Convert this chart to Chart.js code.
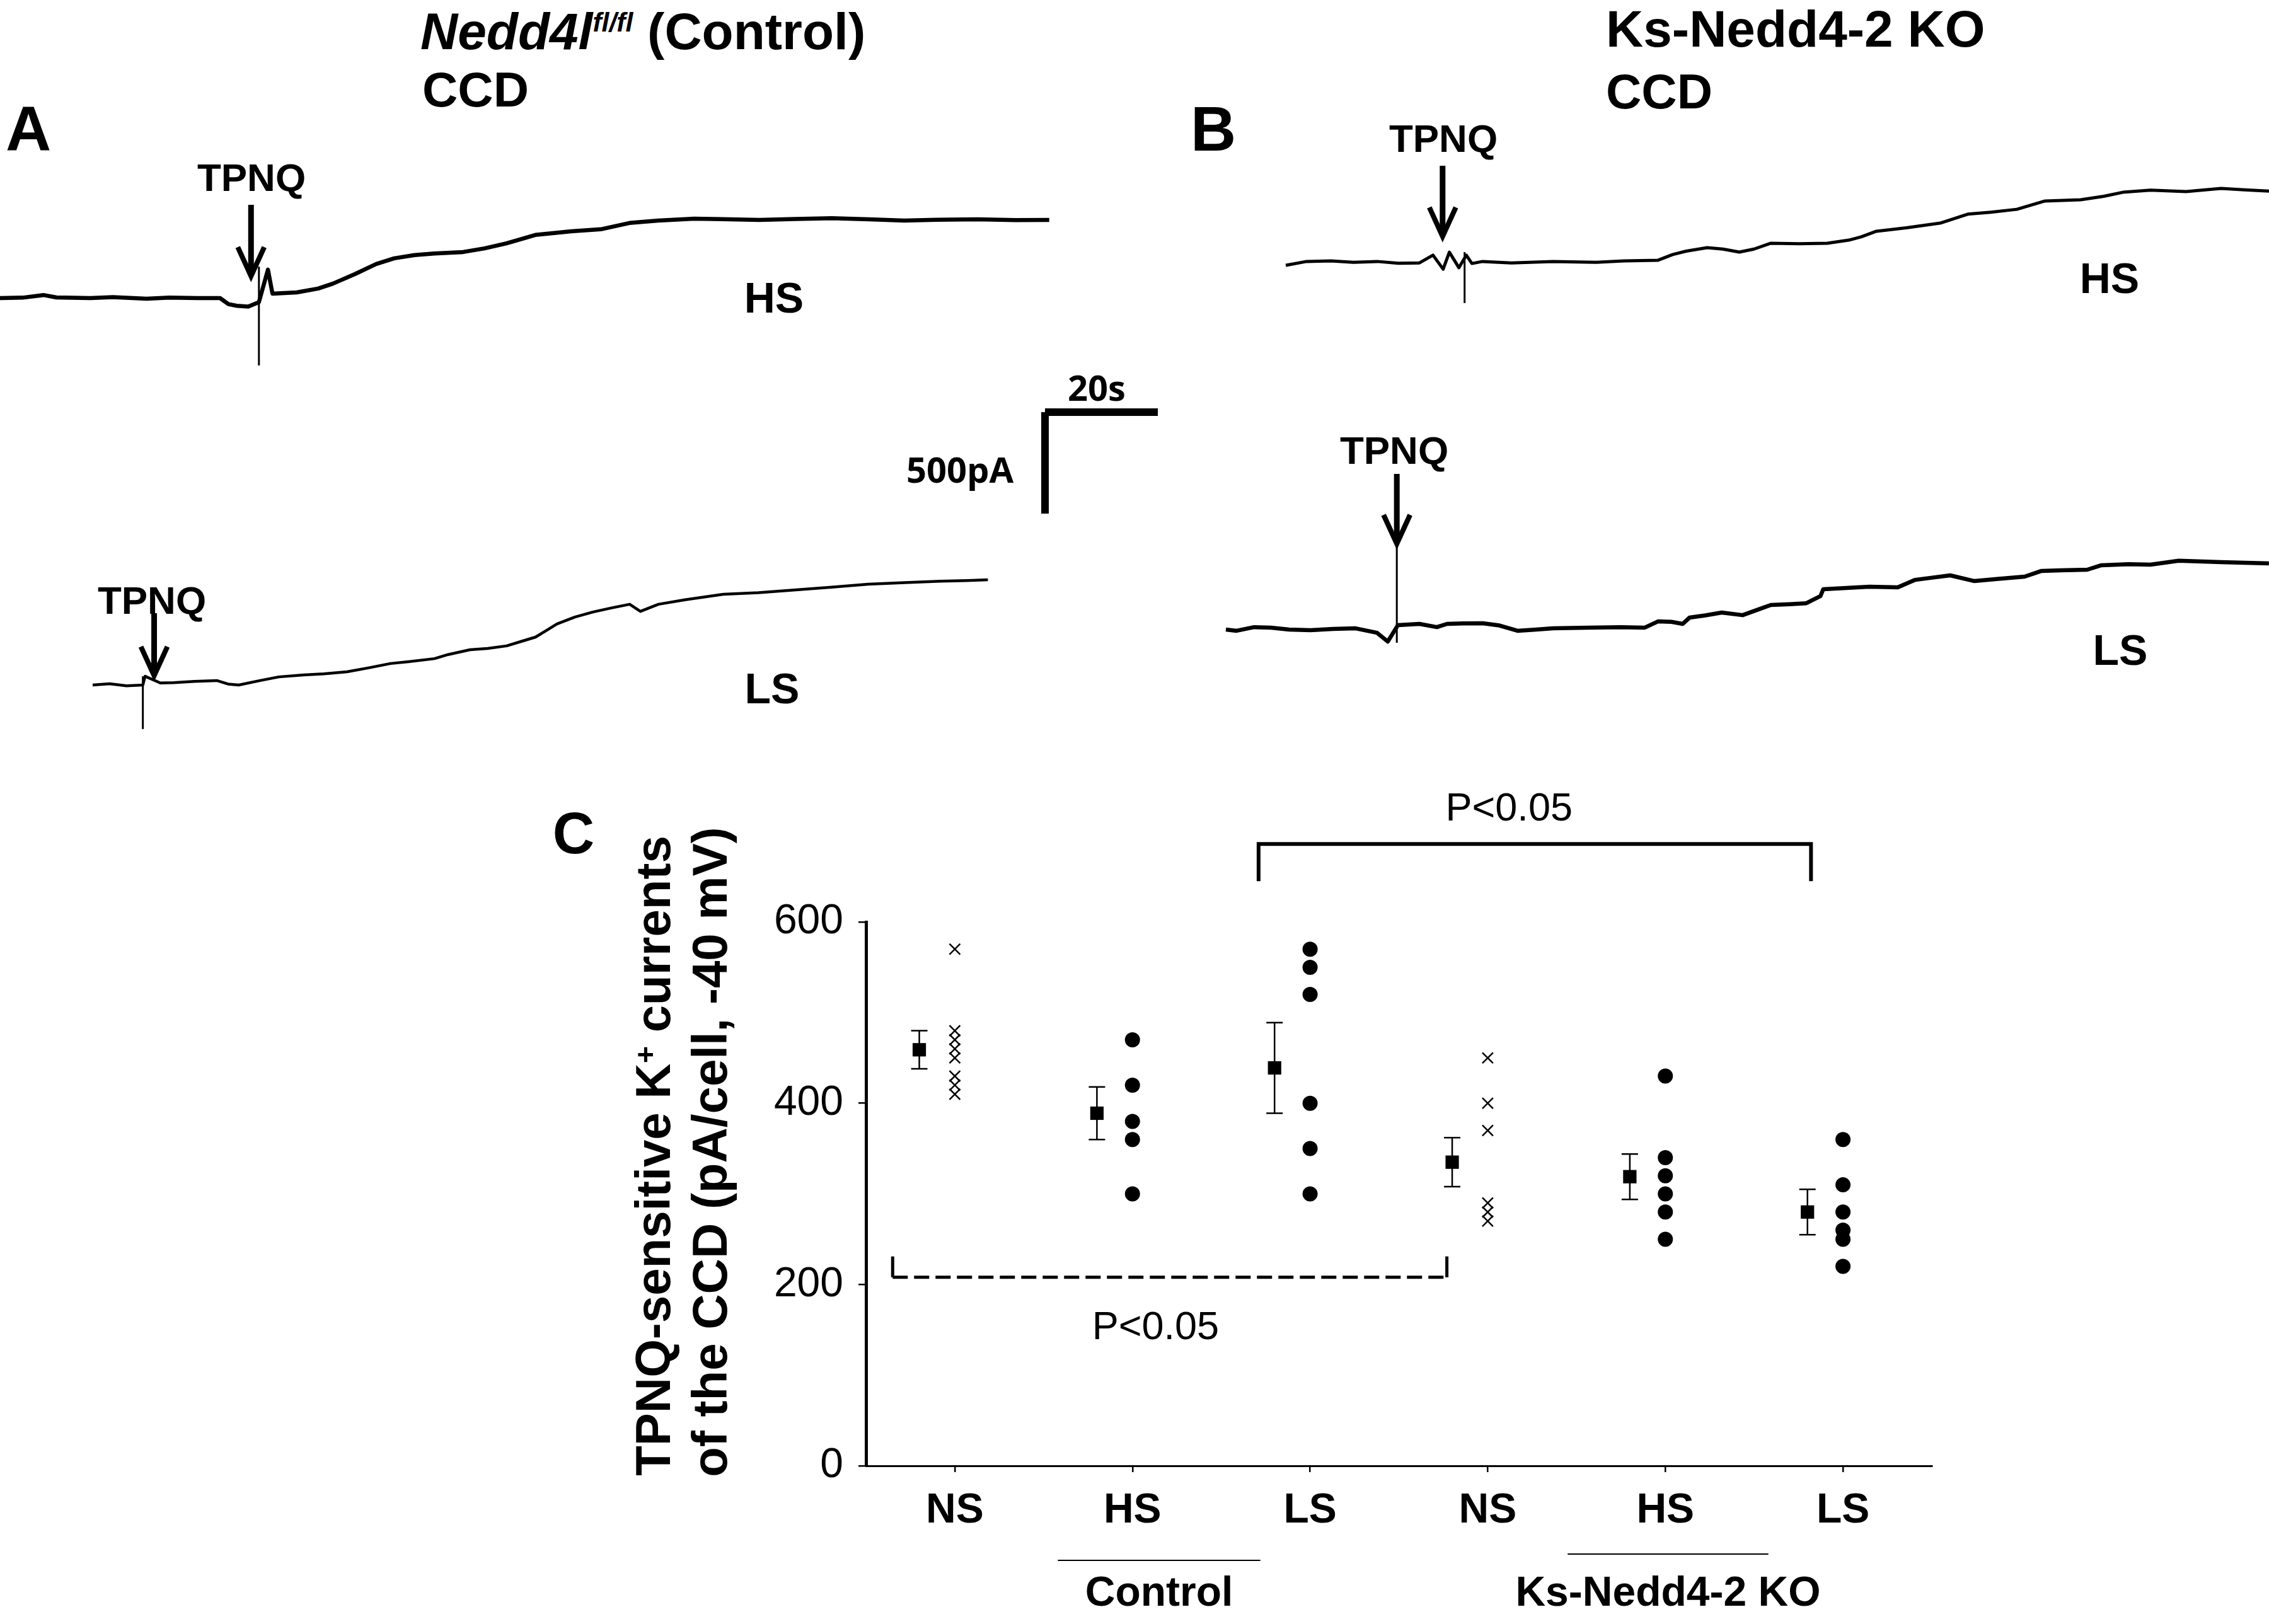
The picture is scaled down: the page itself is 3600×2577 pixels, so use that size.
<!DOCTYPE html>
<html>
<head>
<meta charset="utf-8">
<title>TPNQ-sensitive K+ currents in the CCD</title>
<script src="https://cdn.jsdelivr.net/npm/chart.js@4.4.1/dist/chart.umd.min.js"></script>
<style>
  html, body { margin: 0; padding: 0; background: #fff; }
  #fig { position: relative; width: 3600px; height: 2577px; overflow: hidden; background: #fff;
         font-family: 'Liberation Sans', Arial, sans-serif; color: #000; }
  #fig canvas { position: absolute; }
  .lbl { position: absolute; white-space: nowrap; line-height: 1; }
  .bar { position: absolute; background: #000; }
  .sup { font-size: 0.6em; position: relative; top: -0.5em; }
</style>
</head>
<body>
<div id="fig"></div>
<script>
// --- DATA: whole-cell traces (time in s after trace start, current in pA relative to baseline) ---
const aHsTime = [0, 4, 7.7, 10, 16, 20, 26, 30, 35, 39, 40.5, 42, 44, 45.9, 47.5, 48.3, 52.6, 56.4, 59, 62.9,
  66.7, 69.9, 73.5, 77, 82.1, 85.9, 89.8, 94.9, 101.3, 106.5, 111.6, 116.7, 123.1, 128, 134.6, 141, 147.5, 154, 160.3, 166,
  173.2, 180, 186];
const aHsCurrent = [0, 2, 15, 3, 0, 5, -3, 2, 0, 0, -30, -38, -42, -20, 140, 22, 28, 47, 71, 118,
  168, 196, 212, 220, 227, 245, 270, 311, 329, 339, 370, 382, 391, 389, 385, 390, 394, 388, 382, 386,
  388, 384, 385];

const aLsTime = [0, 3, 6, 8.9, 9.3, 12, 14.4, 18, 22, 24, 25.9, 29.7, 33, 37.4, 41, 45.1, 49, 52.8, 56, 60.6,
  63, 66.9, 70, 73.4, 76, 78.5, 80.5, 82.3, 85.5, 88.7, 92, 95.2, 97.1, 100.3, 105, 111.8, 118, 124.7, 131, 137.5,
  144, 150.3, 155, 158.7];
const aLsCurrent = [0, 6, -4, 0, 43, 10, 12, 18, 22, 5, 0, 22, 40, 50, 55, 65, 85, 106, 115, 130,
  150, 174, 180, 193, 215, 236, 270, 301, 335, 360, 380, 398, 363, 398, 420, 447, 455, 469, 482, 497,
  505, 512, 515, 519];

const bHsTime = [0, 3.7, 8, 12, 16.2, 20, 23.7, 26.1, 27.9, 29, 30.7, 32, 33, 34.9, 40, 47.4, 55, 60, 66, 68.6,
  71, 74.7, 77.5, 80.4, 83, 86, 91, 96, 99.8, 102, 104.7, 110, 116, 120.9, 125, 129.6, 134.6, 140.9, 145, 148.4,
  153.3, 159.6, 165.8, 170, 174.3];
const bHsCurrent = [0, 19, 22, 15, 19, 10, 12, 50, -19, 65, -12, 50, 9, 19, 12, 19, 15, 22, 25, 53,
  70, 87, 80, 65, 80, 109, 106, 109, 124, 140, 168, 185, 208, 252, 262, 276, 317, 323, 340, 360,
  370, 363, 379, 372, 366];

const bLsTime = [0, 1.9, 5, 8, 11.2, 15, 19, 23, 26.8, 28.7, 30.5, 34.3, 37.4, 39.2, 42, 45.5, 48.5, 51.7, 55, 58,
  64.2, 70, 74.2, 76.6, 79, 81, 82.2, 85, 87.9, 91.6, 94, 96.6, 100, 102.9, 105.4, 105.9, 110, 114.1, 119.1, 122.2,
  125, 128.4, 132.7, 137, 141.6, 144.6, 148, 152.7, 155.2, 160, 163.9, 168.9, 176.4, 184.9];
const bLsCurrent = [0, -6, 12, 9, 0, -3, 3, 6, -16, -59, 22, 28, 12, 28, 30, 31, 20, -6, 0, 6,
  9, 12, 9, 40, 38, 28, 59, 70, 84, 71, 95, 121, 125, 130, 165, 199, 205, 211, 208, 245,
  255, 267, 239, 250, 261, 289, 292, 295, 317, 322, 320, 339, 332, 326];

// application artefacts (thin vertical spikes) and TPNQ arrows, in the same s / pA units
const aHsSpike = { t: 45.9, from: -332, to: 155 };
const aLsSpike = { t: 8.9, from: -217, to: 43 };
const bHsSpike = { t: 31.7, from: -186, to: 65 };
const bLsSpike = { t: 30.3, from: -65, to: 410 };
const aHsArrow = { t: 44.5, from: 460, to: 96 };
const aLsArrow = { t: 10.9, from: 354, to: 34 };
const bHsArrow = { t: 27.8, from: 491, to: 130 };
const bLsArrow = { t: 30.3, from: 767, to: 410 };

const scaleBarSeconds = 20;
const scaleBarPA = 500;

// --- DATA: panel C (pA/cell) ---
const catLabels = ['NS', 'HS', 'LS', 'NS', 'HS', 'LS'];
const meanVals = [459, 389, 439, 335, 319, 280];
const semVals = [21, 29, 50, 27, 25, 25];
const ctrlNS = [570, 480, 470, 460, 450, 430, 420, 410];
const ctrlHS = [470, 420, 380, 360, 300];
const ctrlLS = [570, 550, 520, 400, 350, 300];
const koNS = [450, 400, 370, 290, 280, 270];
const koHS = [430, 340, 320, 300, 280, 250];
const koLS = [360, 310, 280, 260, 250, 220];

const FONT = "'Liberation Sans', Arial, sans-serif";
const PX_PER_S = 8.95;   // 20 s scale bar
const PX_PER_PA = 0.322; // 500 pA scale bar
const fig = document.getElementById('fig');

// --- TEXT HELPERS ---
function addText(html, x, y, font, opts = {}) {
  const d = document.createElement('div');
  d.className = 'lbl';
  d.innerHTML = html;
  d.style.left = x + 'px';
  d.style.top = y + 'px';
  d.style.font = font;
  let tf = opts.left ? 'translate(0,-50%)' : 'translate(-50%,-50%)';
  if (opts.rotate) tf += ' rotate(-90deg)';
  d.style.transform = tf;
  fig.appendChild(d);
}

// --- TRACES (panels A, B) ---
const arrowPlugin = {
  id: 'tpnqArrow',
  afterDatasetsDraw(chart, args, opts) {
    const a = opts.arrow;
    if (!a) return;
    const { ctx, scales: { x, y } } = chart;
    const px = x.getPixelForValue(a.t);
    const top = y.getPixelForValue(a.from);
    const tip = y.getPixelForValue(a.to);
    ctx.save();
    ctx.strokeStyle = '#000';
    ctx.lineWidth = 9;
    ctx.beginPath();
    ctx.moveTo(px, top);
    ctx.lineTo(px, tip - 8);
    ctx.stroke();
    ctx.lineWidth = 8;
    ctx.lineJoin = 'miter';
    ctx.beginPath();
    ctx.moveTo(px - 21, tip - 50);
    ctx.lineTo(px, tip - 4);
    ctx.lineTo(px + 21, tip - 50);
    ctx.stroke();
    ctx.restore();
  }
};

function traceChart(tr) {
  const [x0, y0] = tr.origin;
  const [l, t, r, b] = tr.box;
  const cv = document.createElement('canvas');
  cv.width = r - l;
  cv.height = b - t;
  cv.style.left = l + 'px';
  cv.style.top = t + 'px';
  fig.appendChild(cv);
  new Chart(cv, {
    type: 'line',
    data: {
      datasets: [
        { data: tr.time.map((s, i) => ({ x: s, y: tr.current[i] })), borderColor: '#000',
          borderWidth: tr.lineWidth, pointRadius: 0, tension: 0, borderJoinStyle: 'round' },
        { data: [{ x: tr.spike.t, y: tr.spike.from }, { x: tr.spike.t, y: tr.spike.to }],
          borderColor: '#000', borderWidth: 3, pointRadius: 0 }
      ]
    },
    options: {
      responsive: false, animation: false, devicePixelRatio: 1, events: [],
      layout: { padding: 0 },
      plugins: { legend: { display: false }, tooltip: { enabled: false }, tpnqArrow: { arrow: tr.arrow } },
      scales: {
        x: { type: 'linear', display: false, min: (l - x0) / PX_PER_S, max: (r - x0) / PX_PER_S },
        y: { type: 'linear', display: false, min: (y0 - b) / PX_PER_PA, max: (y0 - t) / PX_PER_PA }
      }
    },
    plugins: [arrowPlugin]
  });
}

[
  { time: aHsTime, current: aHsCurrent, spike: aHsSpike, arrow: aHsArrow, origin: [0, 473], box: [0, 300, 1720, 600], lineWidth: 6.5 },
  { time: aLsTime, current: aLsCurrent, spike: aLsSpike, arrow: aLsArrow, origin: [147, 1087], box: [100, 860, 1720, 1180], lineWidth: 4.5 },
  { time: bHsTime, current: bHsCurrent, spike: bHsSpike, arrow: bHsArrow, origin: [2040, 421], box: [2000, 240, 3600, 500], lineWidth: 5 },
  { time: bLsTime, current: bLsCurrent, spike: bLsSpike, arrow: bLsArrow, origin: [1945, 999], box: [1900, 730, 3600, 1060], lineWidth: 6.5 }
].forEach(traceChart);

// scale bar
function bar(l, t, w, h) {
  const d = document.createElement('div');
  d.className = 'bar';
  Object.assign(d.style, { left: l + 'px', top: t + 'px', width: w + 'px', height: h + 'px' });
  fig.appendChild(d);
}
bar(1658, 648, scaleBarSeconds * PX_PER_S, 12);
bar(1652, 654, 12, scaleBarPA * PX_PER_PA);
addText(scaleBarSeconds + 's', 1740, 614, "bold 56px 'Open Sans', sans-serif");
addText(scaleBarPA + 'pA', 1523, 744, "bold 56px 'Open Sans', sans-serif");

// panel labels and titles
addText('A', 45, 204, `bold 100px ${FONT}`);
addText('B', 1925, 204, `bold 100px ${FONT}`);
addText('<i>Nedd4l</i><i style="font-size:0.52em;position:relative;top:-28px">fl/fl</i> (Control)', 667, 50, `bold 82px ${FONT}`, { left: true });
addText('CCD', 670, 142, `bold 78px ${FONT}`, { left: true });
addText('Ks-Nedd4-2 KO', 2548, 46, `bold 82px ${FONT}`, { left: true });
addText('CCD', 2548, 145, `bold 78px ${FONT}`, { left: true });
addText('TPNQ', 399, 281, `bold 62px ${FONT}`);
addText('TPNQ', 241, 952, `bold 62px ${FONT}`);
addText('TPNQ', 2290, 219, `bold 62px ${FONT}`);
addText('TPNQ', 2212, 714, `bold 62px ${FONT}`);
addText('HS', 1228, 472, `bold 68px ${FONT}`);
addText('LS', 1225, 1092, `bold 68px ${FONT}`);
addText('HS', 3347, 441, `bold 68px ${FONT}`);
addText('LS', 3364, 1031, `bold 68px ${FONT}`);

// --- PANEL C ---
const MEAN_OFFSET = -0.2;
const pLabels = [{ text: 'P<0.05', x: 4.12, y: 724 }, { text: 'P<0.05', x: 2.13, y: 152 }];
const groups = [
  { label: 'Control', from: 1.58, to: 2.72, lineDy: 150 },
  { label: 'Ks-Nedd4-2 KO', from: 4.45, to: 5.58, lineDy: 140 }
];
const solidBracket = { x: [2.71, 2.71, 5.82, 5.82], y: [645, 686, 686, 645] };
const dashedBracket = { x: [0.65, 0.65, 3.77, 3.77], y: [231, 208, 208, 231] };

const panelCPlugin = {
  id: 'panelC',
  beforeDatasetsDraw(chart) {
    const { ctx, scales: { x, y } } = chart;
    ctx.save();
    ctx.strokeStyle = '#000';
    ctx.lineWidth = 2.5;
    meanVals.forEach((m, i) => {
      const px = x.getPixelForValue(i + 1 + MEAN_OFFSET);
      const yt = y.getPixelForValue(m + semVals[i]);
      const yb = y.getPixelForValue(m - semVals[i]);
      ctx.beginPath();
      ctx.moveTo(px, yt); ctx.lineTo(px, yb);
      ctx.moveTo(px - 13, yt); ctx.lineTo(px + 13, yt);
      ctx.moveTo(px - 13, yb); ctx.lineTo(px + 13, yb);
      ctx.stroke();
    });
    ctx.restore();
  },
  afterDraw(chart) {
    const { ctx, scales: { x, y } } = chart;
    ctx.save();
    ctx.fillStyle = '#000';
    ctx.strokeStyle = '#000';
    ctx.textAlign = 'center';
    ctx.textBaseline = 'middle';
    ctx.font = `63px ${FONT}`;
    pLabels.forEach(p => ctx.fillText(p.text, x.getPixelForValue(p.x), y.getPixelForValue(p.y)));
    const axisY = chart.chartArea.bottom;
    ctx.font = `bold 66px ${FONT}`;
    ctx.lineWidth = 2;
    groups.forEach(g => {
      const a = x.getPixelForValue(g.from), b = x.getPixelForValue(g.to);
      ctx.beginPath();
      ctx.moveTo(a, axisY + g.lineDy);
      ctx.lineTo(b, axisY + g.lineDy);
      ctx.stroke();
      ctx.fillText(g.label, (a + b) / 2, axisY + 204);
    });
    ctx.restore();
  }
};

const cvC = document.createElement('canvas');
cvC.width = 2300;
cvC.height = 1397;
cvC.style.left = '880px';
cvC.style.top = '1180px';
fig.appendChild(cvC);

const pts = (cat, vals) => vals.map(v => ({ x: cat, y: v }));
new Chart(cvC, {
  type: 'scatter',
  data: {
    datasets: [
      { label: 'mean ± SEM', data: meanVals.map((v, i) => ({ x: i + 1 + MEAN_OFFSET, y: v })),
        pointStyle: 'rect', pointRadius: 15, backgroundColor: '#000', borderColor: '#000', borderWidth: 0 },
      { label: 'NS cells', data: [...pts(1, ctrlNS), ...pts(4, koNS)],
        pointStyle: 'crossRot', pointRadius: 12, borderColor: '#000', borderWidth: 2.5 },
      { label: 'HS/LS cells', data: [...pts(2, ctrlHS), ...pts(3, ctrlLS), ...pts(5, koHS), ...pts(6, koLS)],
        pointStyle: 'circle', pointRadius: 12, backgroundColor: '#000', borderColor: '#000', borderWidth: 0 },
      { label: 'LS vs LS', data: solidBracket.x.map((v, i) => ({ x: v, y: solidBracket.y[i] })),
        showLine: true, pointRadius: 0, borderColor: '#000', borderWidth: 6, clip: false, tension: 0 },
      { label: 'NS vs NS', data: dashedBracket.x.map((v, i) => ({ x: v, y: dashedBracket.y[i] })),
        showLine: true, pointRadius: 0, borderColor: '#000', borderWidth: 5, clip: false, tension: 0,
        segment: { borderDash: c => (c.p0DataIndex === 1 ? [24, 10] : []) } }
    ]
  },
  options: {
    responsive: false, animation: false, devicePixelRatio: 1, events: [],
    layout: { padding: { top: 283, right: 115, left: 0, bottom: 0 } },
    plugins: { legend: { display: false }, tooltip: { enabled: false } },
    scales: {
      x: {
        type: 'linear', min: 0.5, max: 6.5,
        afterBuildTicks: s => { s.ticks = catLabels.map((_, i) => ({ value: i + 1 })); },
        afterFit: s => { s.height = 251; },
        ticks: { callback: v => catLabels[v - 1], font: { family: FONT, size: 66, weight: 'bold' },
                 color: '#000', padding: 22, maxRotation: 0, autoSkip: false },
        grid: { drawOnChartArea: false, drawTicks: true, tickLength: 10, color: '#000', lineWidth: 2.5 },
        border: { display: true, color: '#000', width: 3 }
      },
      y: {
        min: 0, max: 600,
        afterFit: s => { s.width = 494; },
        ticks: { stepSize: 200, font: { family: FONT, size: 66 }, color: '#000', padding: 24 },
        grid: { drawOnChartArea: false, drawTicks: true, tickLength: 12, color: '#000', lineWidth: 2.5 },
        border: { display: true, color: '#000', width: 5 }
      }
    }
  },
  plugins: [panelCPlugin]
});

addText('C', 910, 1322, `bold 92px ${FONT}`);
addText('TPNQ-sensitive K<span class="sup">+</span> currents', 1036, 1834, `bold 78px ${FONT}`, { rotate: true });
addText('of the CCD (pA/cell, -40 mV)', 1126, 1828, `bold 78px ${FONT}`, { rotate: true });
</script>
</body>
</html>
